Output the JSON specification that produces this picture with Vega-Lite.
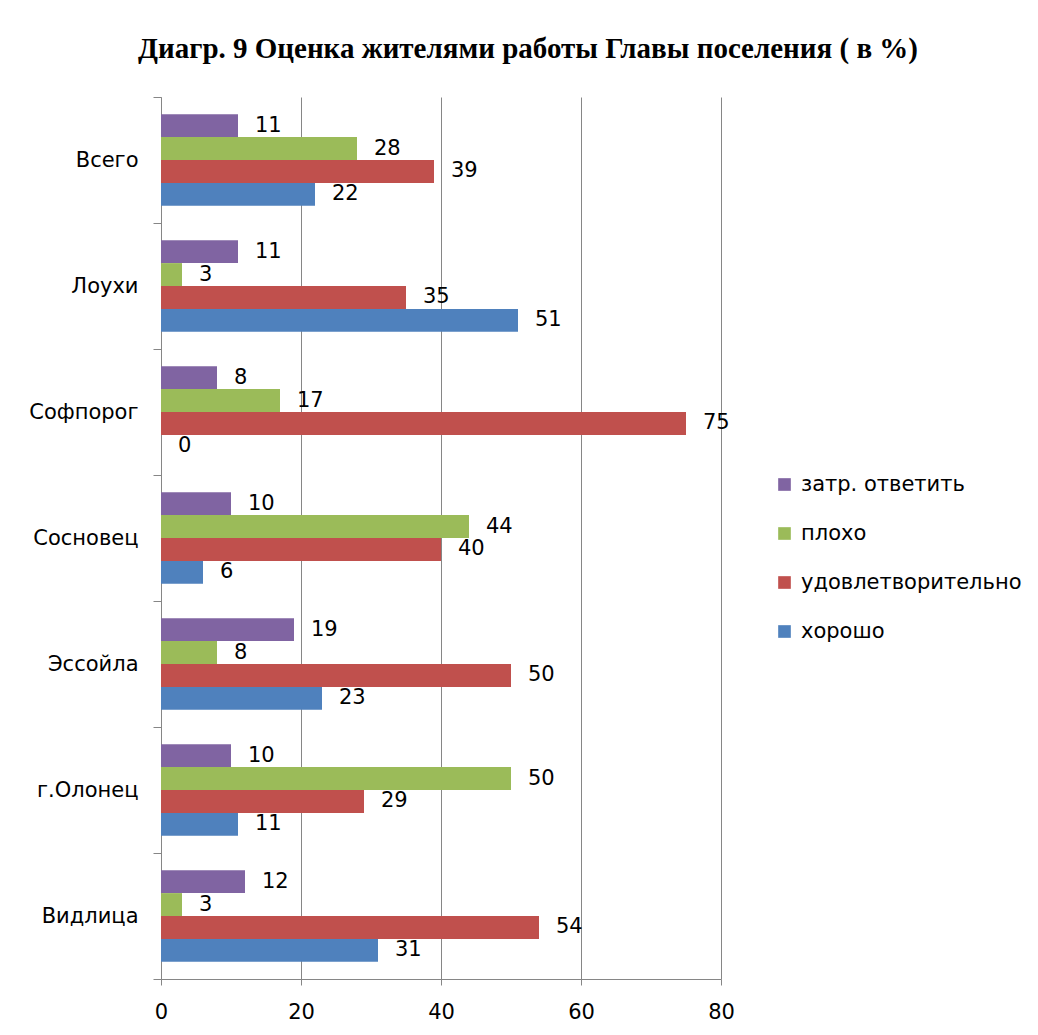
{
  "$schema": "https://vega.github.io/schema/vega-lite/v6.json",
  "width": 560,
  "height": 882,
  "autosize": {"type": "none"},
  "padding": {"left": 161, "top": 97, "right": 317, "bottom": 56},
  "background": "white",
  "title": {
    "text": "Диагр. 9 Оценка жителями работы Главы поселения ( в %)",
    "font": "Liberation Serif",
    "fontSize": 29,
    "fontWeight": "bold",
    "color": "black",
    "anchor": "middle",
    "dx": 87,
    "offset": 22
  },
  "data": {
    "values": [
      {"place": "Всего", "cat": "затр. ответить", "value": 11},
      {"place": "Всего", "cat": "плохо", "value": 28},
      {"place": "Всего", "cat": "удовлетворительно", "value": 39},
      {"place": "Всего", "cat": "хорошо", "value": 22},
      {"place": "Лоухи", "cat": "затр. ответить", "value": 11},
      {"place": "Лоухи", "cat": "плохо", "value": 3},
      {"place": "Лоухи", "cat": "удовлетворительно", "value": 35},
      {"place": "Лоухи", "cat": "хорошо", "value": 51},
      {"place": "Софпорог", "cat": "затр. ответить", "value": 8},
      {"place": "Софпорог", "cat": "плохо", "value": 17},
      {"place": "Софпорог", "cat": "удовлетворительно", "value": 75},
      {"place": "Софпорог", "cat": "хорошо", "value": 0},
      {"place": "Сосновец", "cat": "затр. ответить", "value": 10},
      {"place": "Сосновец", "cat": "плохо", "value": 44},
      {"place": "Сосновец", "cat": "удовлетворительно", "value": 40},
      {"place": "Сосновец", "cat": "хорошо", "value": 6},
      {"place": "Эссойла", "cat": "затр. ответить", "value": 19},
      {"place": "Эссойла", "cat": "плохо", "value": 8},
      {"place": "Эссойла", "cat": "удовлетворительно", "value": 50},
      {"place": "Эссойла", "cat": "хорошо", "value": 23},
      {"place": "г.Олонец", "cat": "затр. ответить", "value": 10},
      {"place": "г.Олонец", "cat": "плохо", "value": 50},
      {"place": "г.Олонец", "cat": "удовлетворительно", "value": 29},
      {"place": "г.Олонец", "cat": "хорошо", "value": 11},
      {"place": "Видлица", "cat": "затр. ответить", "value": 12},
      {"place": "Видлица", "cat": "плохо", "value": 3},
      {"place": "Видлица", "cat": "удовлетворительно", "value": 54},
      {"place": "Видлица", "cat": "хорошо", "value": 31}
    ]
  },
  "encoding": {
    "y": {
      "field": "place",
      "type": "nominal",
      "sort": ["Всего", "Лоухи", "Софпорог", "Сосновец", "Эссойла", "г.Олонец", "Видлица"],
      "scale": {"paddingInner": 0, "paddingOuter": 0},
      "axis": {
        "title": null,
        "tickBand": "extent",
        "tickSize": 8,
        "labelPadding": 15,
        "labelFont": "DejaVu Sans",
        "labelFontSize": 21,
        "labelColor": "black",
        "domainColor": "#868686",
        "tickColor": "#868686",
        "grid": false
      }
    },
    "yOffset": {
      "field": "cat",
      "type": "nominal",
      "sort": ["затр. ответить", "плохо", "удовлетворительно", "хорошо"],
      "scale": {"paddingInner": 0, "paddingOuter": 0.75}
    },
    "x": {
      "field": "value",
      "type": "quantitative",
      "scale": {"domain": [0, 80], "nice": false},
      "axis": {
        "title": null,
        "values": [0, 20, 40, 60, 80],
        "tickSize": 6,
        "labelPadding": 16,
        "labelFlush": false,
        "labelFont": "DejaVu Sans",
        "labelFontSize": 21,
        "labelColor": "black",
        "domainColor": "#868686",
        "tickColor": "#868686",
        "grid": true,
        "gridColor": "#868686",
        "gridOpacity": 1
      }
    }
  },
  "layer": [
    {
      "mark": {"type": "bar"},
      "encoding": {
        "color": {
          "field": "cat",
          "type": "nominal",
          "scale": {
            "domain": ["затр. ответить", "плохо", "удовлетворительно", "хорошо"],
            "range": ["#8064A2", "#9BBB59", "#C0504D", "#4F81BD"]
          },
          "legend": {
            "title": null,
            "orient": "none",
            "legendX": 613,
            "legendY": 377,
            "symbolType": "square",
            "symbolSize": 160,
            "symbolStrokeWidth": 0,
            "symbolOpacity": 1,
            "labelFont": "DejaVu Sans",
            "labelFontSize": 21,
            "labelColor": "black",
            "labelLimit": 0,
            "labelOffset": 6,
            "rowPadding": 27
          }
        }
      }
    },
    {
      "mark": {
        "type": "text",
        "align": "left",
        "baseline": "middle",
        "dx": 17,
        "font": "DejaVu Sans",
        "fontSize": 21,
        "color": "black"
      },
      "encoding": {
        "text": {"field": "value", "type": "quantitative"}
      }
    }
  ],
  "config": {
    "view": {"stroke": null}
  }
}
